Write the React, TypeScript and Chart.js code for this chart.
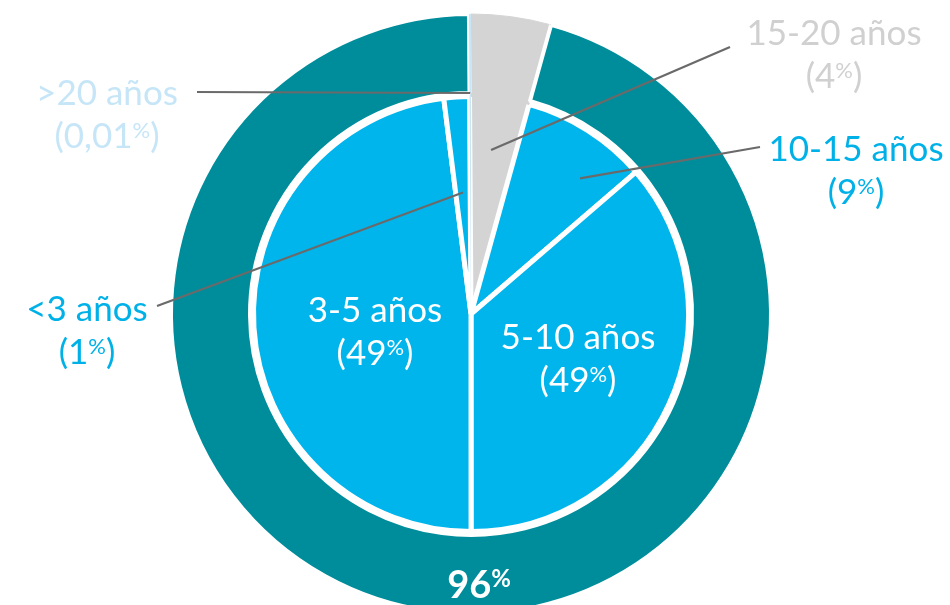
import React, { useEffect, useRef } from 'react';
import { Chart, registerables } from 'chart.js';

Chart.register(...registerables);

// Inner pie, clockwise from 12 o'clock
const categories = ['15-20 años', '10-15 años', '5-10 años', '3-5 años', '<3 años', '>20 años'];
// angular share of each slice as drawn in the picture
const sliceShares = [4.3, 9.39, 36.3, 48.0, 1.89, 0.11];
// percentages printed on the labels
const shownPercents = ['4', '9', '49', '49', '1', '0,01'];

// Outer ring, clockwise from 12 o'clock
const ringCategories = ['15-20 años', 'Resto', '>20 años'];
const ringShares = [4.3, 95.59, 0.11];
const ringPercent = '96';

const TEAL = '#008D9B';
const BLUE = '#00B5EC';
const GRAY = '#D4D4D4';
const PALE = '#C7E7F8';
const BLUE_TXT = '#00B1E8';
const GRAY_TXT = '#D0D0D0';
const PALE_TXT = '#C6E6F8';
const LINE = '#6A6A6A';
const FONT = 'Lato, "Open Sans", sans-serif';
const SIZE = 35;
const LEAD = 43;

type Seg = { t: string; sup?: boolean };

function drawRich(ctx: CanvasRenderingContext2D, segs: Seg[], cx: number, baseline: number, size: number, bold: boolean, color: string) {
  const w = bold ? '700 ' : '400 ';
  const main = `${w}${size}px ${FONT}`;
  const small = `${w}${Math.round(size * 0.62)}px ${FONT}`;
  let total = 0;
  const widths = segs.map((s) => {
    ctx.font = s.sup ? small : main;
    const m = ctx.measureText(s.t).width;
    total += m;
    return m;
  });
  let x = cx - total / 2;
  ctx.fillStyle = color;
  ctx.textAlign = 'left';
  ctx.textBaseline = 'alphabetic';
  segs.forEach((s, k) => {
    ctx.font = s.sup ? small : main;
    ctx.fillText(s.t, x, s.sup ? baseline - size * 0.3 : baseline);
    x += widths[k];
  });
}

function pctSegs(p: string): Seg[] {
  return [{ t: '(' + p }, { t: '%', sup: true }, { t: ')' }];
}

function arcPoint(chart: any, ds: number, idx: number, af: number, rf: number) {
  const el = chart.getDatasetMeta(ds).data[idx];
  const p = el.getProps(['x', 'y', 'startAngle', 'endAngle', 'innerRadius', 'outerRadius'], true);
  const a = p.startAngle + (p.endAngle - p.startAngle) * af;
  const r = p.innerRadius + (p.outerRadius - p.innerRadius) * rf;
  return [p.x + Math.cos(a) * r, p.y + Math.sin(a) * r];
}

const outsideLabels = [
  { i: 0, x: 834, y: 45, color: GRAY_TXT, ptr: { ds: 2, idx: 0, af: 0.45, rf: 0.76 }, end: [730, 47] },
  { i: 1, x: 856, y: 161, color: BLUE_TXT, ptr: { ds: 2, idx: 1, af: 0.69, rf: 0.8 }, end: [760, 147] },
  { i: 5, x: 107, y: 105, color: PALE_TXT, ptr: { ds: 0, idx: 2, af: 0.5, rf: 0 }, end: [197, 92] },
  { i: 4, x: 87, y: 321, color: BLUE_TXT, ptr: { ds: 2, idx: 4, af: 0.5, rf: 0.56 }, end: [157, 306] },
];
const insideLabels = [
  { i: 3, x: 375, y: 322 },
  { i: 2, x: 578, y: 349 },
];

const labelPlugin = {
  id: 'sliceLabels',
  afterDatasetsDraw(chart: any) {
    const ctx: CanvasRenderingContext2D = chart.ctx;
    ctx.save();
    ctx.strokeStyle = LINE;
    ctx.lineWidth = 2.2;
    outsideLabels.forEach((l) => {
      const [sx, sy] = arcPoint(chart, l.ptr.ds, l.ptr.idx, l.ptr.af, l.ptr.rf);
      ctx.beginPath();
      ctx.moveTo(sx, sy);
      ctx.lineTo(l.end[0], l.end[1]);
      ctx.stroke();
    });
    outsideLabels.forEach((l) => {
      drawRich(ctx, [{ t: categories[l.i] }], l.x, l.y, SIZE, false, l.color);
      drawRich(ctx, pctSegs(shownPercents[l.i]), l.x, l.y + LEAD, SIZE, false, l.color);
    });
    insideLabels.forEach((l) => {
      drawRich(ctx, [{ t: categories[l.i] }], l.x, l.y, SIZE, false, '#FFFFFF');
      drawRich(ctx, pctSegs(shownPercents[l.i]), l.x, l.y + LEAD, SIZE, false, '#FFFFFF');
    });
    drawRich(ctx, [{ t: ringPercent }, { t: '%', sup: true }], 479, 598, 38, true, '#FFFFFF');
    ctx.restore();
  },
};

export default function App() {
  const ref = useRef<HTMLCanvasElement>(null);
  useEffect(() => {
    const chart = new Chart(ref.current as HTMLCanvasElement, {
      type: 'pie',
      data: {
        labels: categories,
        datasets: [
          {
            label: 'ring',
            data: ringShares,
            backgroundColor: [GRAY, TEAL, PALE],
            borderColor: [GRAY, '#FFFFFF', PALE],
            borderWidth: [1, 4, 0],
            weight: 79,
          } as any,
          {
            label: 'gap',
            data: ringShares,
            backgroundColor: [GRAY, 'rgba(0,0,0,0)', PALE],
            borderColor: [GRAY, 'rgba(0,0,0,0)', PALE],
            borderWidth: [1, 0, 0],
            weight: 3.5,
          },
          {
            label: 'pie',
            data: sliceShares,
            backgroundColor: [GRAY, BLUE, BLUE, BLUE, BLUE, PALE],
            borderColor: [GRAY, '#FFFFFF', '#FFFFFF', '#FFFFFF', '#FFFFFF', PALE],
            borderWidth: [1, 5, 5, 5, 5, 0],
            weight: 217.5,
          },
        ],
      },
      options: {
        responsive: false,
        animation: false,
        events: [],
        radius: 300,
        layout: { padding: { right: 8 } },
        plugins: { legend: { display: false }, tooltip: { enabled: false } },
      } as any,
      plugins: [labelPlugin],
    });
    return () => chart.destroy();
  }, []);
  void ringCategories;
  return (
    <div style={{ position: 'fixed', left: 0, top: 0, width: 950, height: 628, background: '#FFFFFF' }}>
      <canvas ref={ref} width={950} height={628} style={{ display: 'block', width: 950, height: 628 }} />
    </div>
  );
}
